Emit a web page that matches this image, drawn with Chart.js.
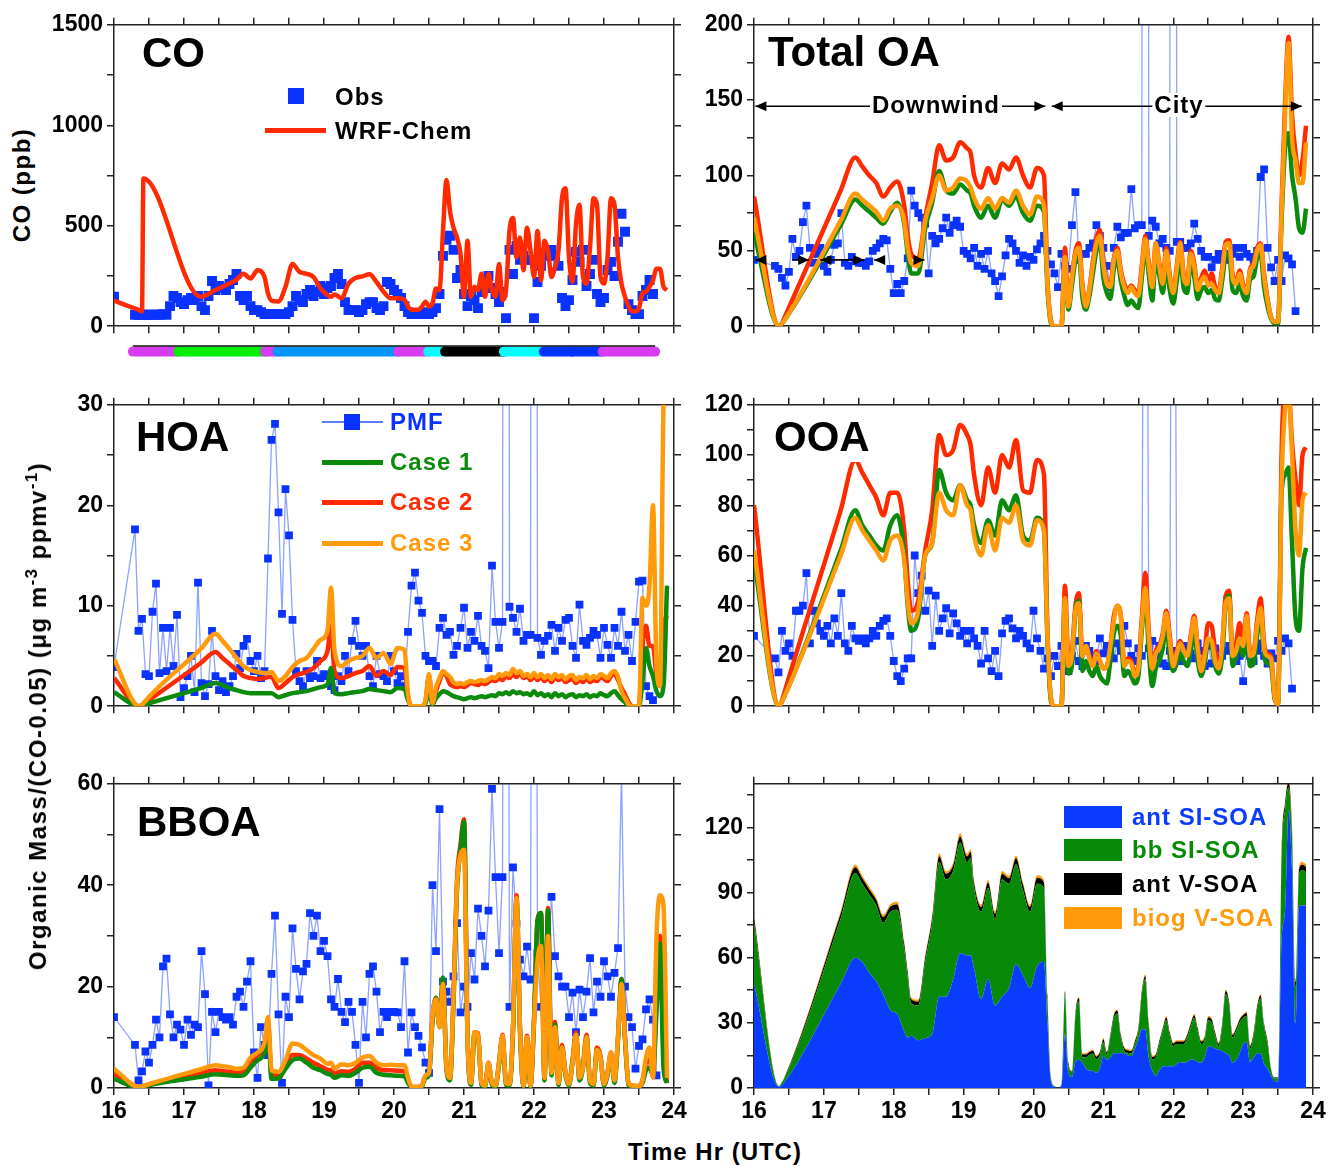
<!DOCTYPE html>
<html lang="en">
<head>
<meta charset="UTF-8">
<title>CO and organic aerosol: observations vs WRF-Chem</title>
<script src="https://cdn.jsdelivr.net/npm/chart.js"></script>
<style>
  body { margin: 0; background: #fff; }
  #fig { position: relative; width: 1330px; height: 1167px; overflow: hidden; font-family: 'Liberation Sans', Arial, sans-serif; }
  canvas { position: absolute; }
  .t { position: absolute; font-weight: bold; white-space: nowrap; line-height: 1; color: #000; }
  .big { font-size: 42px; }
  .lg { font-size: 24px; letter-spacing: 1px; }
  .key { position: absolute; }
  .rot { transform: translate(-50%, -50%) rotate(-90deg); font-size: 24px; letter-spacing: 1.5px; }
  .ctr { transform: translate(-50%, -50%); font-size: 24px; letter-spacing: 1px; }
</style>
</head>
<body>
<div id="fig">
  <canvas id="cCO" style="left:40px;top:7px" width="653" height="337"></canvas>
  <canvas id="cBar" style="left:40px;top:336px" width="653" height="30"></canvas>
  <canvas id="cTOA" style="left:680px;top:7px" width="652" height="337"></canvas>
  <canvas id="cHOA" style="left:40px;top:387px" width="653" height="337"></canvas>
  <canvas id="cOOA" style="left:680px;top:387px" width="652" height="337"></canvas>
  <canvas id="cBBOA" style="left:40px;top:766px" width="653" height="370"></canvas>
  <canvas id="cSOA" style="left:680px;top:766px" width="652" height="370"></canvas>

  <div class="t big" style="left:142px;top:32px">CO</div>
  <div class="t big" style="left:768px;top:31px">Total OA</div>
  <div class="t big" style="left:136px;top:416px">HOA</div>
  <div class="t big" style="left:772px;top:414px;background:#fff;padding:2px 4px 4px 2px">OOA</div>
  <div class="t big" style="left:137px;top:801px">BBOA</div>

  <div class="t rot" style="left:22px;top:185px">CO (ppb)</div>
  <div class="t rot" style="left:37px;top:716px">Organic Mass/(CO-0.05) (&mu;g m<sup style="font-size:0.7em">-3</sup> ppmv<sup style="font-size:0.7em">-1</sup>)</div>
  <div class="t ctr" style="left:715px;top:1152px">Time Hr (UTC)</div>

  <!-- CO legend -->
  <div class="key" style="left:288px;top:88px;width:16px;height:16px;background:#0a32ff"></div>
  <div class="t lg" style="left:335px;top:85px">Obs</div>
  <div class="key" style="left:265px;top:128px;width:61px;height:5px;background:#ff2a00"></div>
  <div class="t lg" style="left:335px;top:119px">WRF-Chem</div>

  <!-- HOA legend -->
  <div class="key" style="left:322px;top:421px;width:61px;height:1.5px;background:rgba(30,70,255,0.7)"></div>
  <div class="key" style="left:344px;top:414px;width:16px;height:16px;background:#0a32ff"></div>
  <div class="t lg" style="left:390px;top:410px;color:#0a32ff">PMF</div>
  <div class="key" style="left:322px;top:460px;width:61px;height:5px;background:#0b8a0b"></div>
  <div class="t lg" style="left:390px;top:450px;color:#0b8a0b">Case 1</div>
  <div class="key" style="left:322px;top:500px;width:61px;height:5px;background:#ff2a00"></div>
  <div class="t lg" style="left:390px;top:490px;color:#ff2a00">Case 2</div>
  <div class="key" style="left:322px;top:541px;width:61px;height:5px;background:#ff9a0a"></div>
  <div class="t lg" style="left:390px;top:531px;color:#ff9a0a">Case 3</div>

  <!-- SOA legend -->
  <div class="key" style="left:1064px;top:806px;width:58px;height:22px;background:#0a3cff"></div>
  <div class="t lg" style="left:1132px;top:805px;color:#0a3cff">ant SI-SOA</div>
  <div class="key" style="left:1064px;top:839px;width:58px;height:22px;background:#078a07"></div>
  <div class="t lg" style="left:1132px;top:838px;color:#078a07">bb SI-SOA</div>
  <div class="key" style="left:1064px;top:873px;width:58px;height:22px;background:#000"></div>
  <div class="t lg" style="left:1132px;top:872px">ant V-SOA</div>
  <div class="key" style="left:1064px;top:907px;width:58px;height:22px;background:#ff9a0a"></div>
  <div class="t lg" style="left:1132px;top:906px;color:#ff9a0a">biog V-SOA</div>

  <!-- leg labels on Total OA -->
  <div class="t ctr" style="left:936px;top:105px;background:#fff;padding:0 2px">Downwind</div>
  <div class="t ctr" style="left:1179px;top:105px;background:#fff;padding:0 2px">City</div>
</div>

<script>
// ---------- model time axis (hr UTC) ----------
const tm = [16.00, 16.36, 16.40, 16.42, 17.24,
  17.45, 17.55, 17.65, 17.75, 17.85, 17.95, 18.05, 18.15, 18.20, 18.25, 18.35, 18.45, 18.55, 18.65, 18.75,
  18.85, 18.95, 19.05, 19.10, 19.15, 19.25, 19.35, 19.45, 19.55, 19.65, 19.75, 19.85, 19.95, 20.05, 20.15, 20.20,
  20.25, 20.30, 20.35, 20.40, 20.45, 20.50, 20.55, 20.60, 20.65, 20.70, 20.75, 20.80, 20.85, 20.90, 20.95,
  21.00, 21.05, 21.10, 21.15, 21.20, 21.25, 21.30, 21.35, 21.40, 21.45, 21.50, 21.55, 21.60, 21.65, 21.70, 21.75, 21.80, 21.85, 21.90, 21.95,
  22.00, 22.05, 22.10, 22.15, 22.20, 22.25, 22.30, 22.35, 22.40, 22.45, 22.50, 22.55, 22.60, 22.65, 22.70, 22.75, 22.80, 22.85, 22.90, 22.95,
  23.00, 23.05, 23.10, 23.15, 23.20, 23.25, 23.30, 23.35, 23.40, 23.45, 23.50, 23.55, 23.60, 23.65, 23.70, 23.75, 23.80, 23.85, 23.90];

// ---------- observation time axis ----------
const tObs = [16.00,
  16.30, 16.35, 16.40, 16.45, 16.50, 16.55, 16.60, 16.65, 16.70, 16.75, 16.80, 16.85, 16.90, 16.95,
  17.00, 17.05, 17.10, 17.15, 17.20, 17.25, 17.30, 17.35, 17.40, 17.45, 17.50, 17.55, 17.60, 17.65, 17.70, 17.75, 17.80, 17.85, 17.90, 17.95,
  18.00, 18.05, 18.10, 18.15, 18.20, 18.25, 18.30, 18.35, 18.40, 18.45, 18.50, 18.55, 18.60, 18.65, 18.70, 18.75, 18.80, 18.85, 18.90, 18.95,
  19.00, 19.05, 19.10, 19.15, 19.20, 19.25, 19.30, 19.35, 19.40, 19.45, 19.50, 19.55, 19.60, 19.65, 19.70, 19.75, 19.80, 19.85, 19.90, 19.95,
  20.00, 20.05, 20.10, 20.15, 20.20, 20.25, 20.30, 20.35, 20.40, 20.45, 20.50, 20.55, 20.60, 20.65, 20.70, 20.75, 20.80, 20.85, 20.90, 20.95,
  21.00, 21.05, 21.10, 21.15, 21.20, 21.25, 21.30, 21.35, 21.40, 21.45, 21.50, 21.55, 21.60, 21.65, 21.70, 21.75, 21.80, 21.85, 21.90, 21.95,
  22.00, 22.05, 22.10, 22.15, 22.20, 22.25, 22.30, 22.35, 22.40, 22.45, 22.50, 22.55, 22.60, 22.65, 22.70, 22.75, 22.80, 22.85, 22.90, 22.95,
  23.00, 23.05, 23.10, 23.15, 23.20, 23.25, 23.30, 23.35, 23.40, 23.45, 23.50, 23.55, 23.60, 23.65, 23.70, 23.75, 23.80, 23.85];

// ---------- CO (ppb) ----------
const coModel = [127, 80, 74, 735, 147, 180, 196, 212, 232, 261, 237, 278, 245, 163, 127, 123, 196, 310, 270, 261,
  245, 188, 155, 147, 158, 139, 212, 240, 248, 258, 220, 172, 139, 139, 131, 98,
  82, 82, 82, 98, 122, 98, 114, 188, 180, 474, 727, 572, 490, 441, 360,
  147, 425, 147, 196, 180, 261, 147, 261, 180, 147, 310, 131, 180, 474, 539, 343, 441, 278, 490, 376,
  245, 474, 229, 425, 376, 245, 294, 376, 637, 686, 343, 220, 507, 605, 245, 212, 392, 637, 605, 245,
  212, 343, 637, 605, 343, 212, 147, 98, 74, 74, 90, 163, 172, 196, 229, 286, 286, 196, 180];
const coObs = [147,
  57, 57, 57, 57, 57, 57, 57, 57, 60, 57, 100, 150, 140, 120,
  110, 130, 140, 130, 150, 100, 80, 150, 225, 180, 200, 190, 180, 210, 230, 260, 150, 130, 150, 100,
  80, 80, 70, 60, 60, 60, 60, 60, 60, 60, 70, 100, 150, 130, 120, 160, 180, 150, 170, 200,
  160, 190, 200, 240, 260, 210, 120, 80, 80, 80, 70, 80, 110, 120, 120, 90, 80, 100, 220, 210,
  180, 160, 140, 100, 70, 60, 60, 60, 60, 70, 60, 70, 90, 160, 350, 430, 450, 380, 240, 280,
  160, 100, 150, 130, 90, 170, 200, 250, 190, 160, 120, 170, 40, 380, 260, 400, 330, 350, 330, 330,
  40, 220, 300, 360, 350, 380, 350, 300, 140, 100, 130, 230, 370, 320, 380, 200, 260, 330, 160, 120,
  140, 280, 320, 250, 420, 560, 470, 110, 80, 60, 60, 150, 180, 230, 160, null, null, null];

// ---------- Total OA ----------
const toaCase2 = [86, 0, 2, 4, 90, 112, 106, 100, 95, 86, 92, 96, 80, 60, 48, 45, 72, 95, 120, 110,
  112, 122, 118, 115, 100, 92, 105, 95, 108, 104, 112, 100, 92, 105, 100, 30,
  4, 0, 0, 0, 52, 13, 33, 50, 55, 28, 14, 25, 43, 58, 64,
  42, 30, 28, 45, 52, 37, 28, 24, 27, 24, 22, 40, 60, 42, 28, 55, 42, 30, 52, 34,
  22, 40, 56, 34, 30, 50, 42, 26, 32, 37, 30, 35, 26, 24, 38, 56, 57, 34, 30, 37,
  28, 22, 38, 42, 52, 55, 35, 18, 6, 3, 3, 80, 148, 192, 140, 115, 100, 110, 133];
const toaCase3 = [72, 0, 2, 3, 70, 88, 84, 80, 76, 70, 78, 80, 70, 52, 42, 40, 70, 85, 100, 90,
  92, 98, 96, 92, 85, 78, 85, 78, 85, 82, 90, 80, 74, 86, 80, 28,
  3, 0, 0, 0, 46, 13, 32, 48, 52, 26, 13, 24, 41, 55, 60,
  40, 28, 26, 44, 50, 35, 26, 22, 26, 22, 20, 38, 58, 40, 26, 55, 40, 28, 50, 32,
  22, 38, 55, 32, 28, 48, 40, 24, 30, 33, 27, 28, 24, 22, 36, 54, 55, 32, 28, 35,
  26, 22, 37, 40, 50, 54, 33, 17, 6, 3, 3, 75, 140, 188, 125, 110, 95, 95, 122];
const toaCase1 = [62, 0, 2, 3, 67, 84, 80, 76, 72, 68, 76, 82, 68, 48, 35, 35, 65, 82, 103, 90,
  88, 94, 90, 88, 80, 72, 80, 72, 84, 80, 86, 75, 70, 80, 76, 25,
  2, 0, 0, 0, 39, 11, 27, 44, 48, 19, 11, 20, 35, 50, 56,
  32, 22, 18, 38, 44, 30, 20, 14, 17, 14, 12, 32, 53, 34, 17, 46, 34, 22, 42, 24,
  15, 30, 46, 25, 22, 42, 33, 18, 24, 26, 22, 24, 18, 17, 30, 47, 48, 24, 22, 28,
  20, 17, 31, 33, 45, 48, 26, 13, 5, 2, 2, 70, 118, 128, 100, 85, 65, 62, 78];
const toaObs = [44,
  40, 38, 32, 27, 36, 58, 46, 50, 69, 80, 52, 42, 48, 52,
  40, 36, 44, 54, 55, 75, 42, 40, 46, 43, 42, 42, 40, 43, 50, 52, 55, 58, 57, 38,
  22, 28, 22, 30, 45, 90, 80, 75, 72, 68, 35, 60, 55, 58, 65, 72, 62, 67, 70, 66,
  50, 48, 45, 52, 40, 48, 38, 50, 35, 30, 20, 33, 47, 58, 55, 50, 42, 47, 40, 46,
  44, 51, 55, 60, 50, 41, 35, 26, 48, 40, 38, 67, 89, 44, 48, 48, 52, 55, 67, 60,
  52, 40, 26, 52, 66, 59, 62, 62, 91, 65, 67, 67, 3000, 60, 70, 66, 55, 58, 52, 50,
  3000, 56, 56, 52, 52, 55, 68, 58, 50, 46, 46, 39, 44, 48, 44, 48, 44, 48, 52, 46,
  52, 48, 46, 44, 50, 99, 104, 52, 39, 30, 44, 30, 47, 45, 41, 10, null, null];

// ---------- HOA ----------
const hoaCase2 = [2.8, 0, 0.1, 0.2, 4.3, 5.4, 4.8, 4.2, 3.6, 3.0, 2.8, 2.7, 2.8, 2.9, 2.9, 1.8, 2.3, 2.9, 3.2, 3.4,
  3.8, 4.5, 5.5, 8.0, 3.5, 2.8, 3.0, 3.3, 3.5, 4.0, 3.0, 3.5, 3.1, 3.9, 3.8, 1.0,
  0, 0, 0, 0, 0.5, 3.0, 0.3, 1.5, 2.5, 3.3, 3.0, 2.2, 2.0, 1.9, 2.0,
  1.9, 2.1, 2.3, 2.2, 2.1, 2.3, 2.2, 2.4, 2.6, 2.5, 2.8, 2.6, 3.0, 2.8, 3.2, 2.9, 3.3, 2.8, 3.0, 2.6,
  3.0, 2.6, 2.9, 2.5, 2.8, 2.4, 2.9, 2.6, 2.8, 2.4, 2.6, 2.7, 2.3, 2.6, 2.4, 2.8, 2.4, 2.6, 2.5, 2.9,
  2.7, 2.5, 3.0, 3.2, 2.6, 1.8, 1.2, 0.4, 0, 0, 0, 6.0, 8.0, 6.0, 6.0, 3.0, 2.0, 8.0, 9.0];
const hoaCase3 = [4.7, 0, 0.1, 0.3, 5.7, 7.2, 6.5, 5.7, 4.8, 4.0, 3.6, 3.4, 3.3, 3.3, 3.4, 2.5, 3.0, 3.9, 4.5, 4.8,
  5.7, 6.6, 7.5, 11.8, 5.5, 4.0, 4.5, 4.8, 5.0, 5.8, 4.8, 5.3, 4.2, 5.8, 5.6, 1.2,
  0, 0, 0, 0, 0.6, 3.2, 0.3, 1.9, 2.8, 3.5, 3.2, 2.9, 2.4, 2.2, 2.3,
  2.2, 2.4, 2.5, 2.4, 2.5, 2.6, 2.5, 2.7, 2.9, 2.8, 3.2, 3.0, 3.3, 3.1, 3.7, 3.3, 3.5, 3.0, 3.2, 2.9,
  3.3, 2.9, 3.2, 2.8, 3.1, 2.7, 3.2, 2.9, 3.1, 2.7, 3.0, 3.1, 2.6, 2.9, 2.8, 3.1, 2.7, 3.0, 2.8, 3.2,
  3.0, 2.8, 3.3, 3.5, 2.9, 1.5, 0.8, 0.2, 0, 0, 0, 10.8, 10.0, 12.0, 20.0, 4.0, 2.0, 30.0, 35.0];
const hoaCase1 = [1.4, 0, 0.05, 0.1, 1.8, 2.3, 2.1, 1.8, 1.6, 1.4, 1.3, 1.3, 1.3, 1.3, 1.3, 0.9, 1.1, 1.3, 1.4, 1.5,
  1.7, 1.9, 2.2, 3.8, 1.3, 1.2, 1.3, 1.4, 1.5, 1.7, 1.6, 1.5, 1.4, 1.8, 1.7, 0.6,
  0, 0, 0, 0, 0.3, 1.5, 0.2, 0.8, 1.2, 1.5, 1.4, 1.2, 1.0, 0.9, 0.8,
  0.7, 0.8, 0.9, 0.8, 0.9, 1.0, 0.9, 1.0, 1.1, 1.0, 1.3, 1.2, 1.4, 1.2, 1.5, 1.3, 1.4, 1.2, 1.3, 1.1,
  1.5, 1.1, 1.3, 1.0, 1.2, 0.9, 1.3, 1.0, 1.2, 0.9, 1.1, 1.2, 0.9, 1.1, 1.0, 1.2, 0.9, 1.1, 1.0, 1.3,
  1.1, 1.0, 1.3, 1.5, 1.1, 0.7, 0.4, 0.1, 0, 0, 0, 2.5, 5.8, 4.0, 3.0, 1.5, 1.0, 2.0, 12.0];
const hoaObs = [3.9,
  17.6, 7.5, 8.7, 3.2, 3.0, 9.4, 12.2, 3.3, 7.8, 3.5, 7.8, 4.0, 9.1, 0.9,
  1.8, 3.0, 5.0, 1.4, 12.3, 2.3, 1.0, 2.2, 7.5, 3.0, 1.6, 2.5, 1.4, 2.0, 3.0, 5.2, 3.8, 6.0, 6.7, 4.5,
  3.5, 5.0, 2.8, 3.5, 14.7, 26.5, 28.1, 19.3, 9.2, 21.6, 17.0, 8.6, 3.5, 2.5, 2.0, 3.5, 2.8, 3.0, 4.5, 2.8,
  3.2, 3.0, 2.0, 1.6, 3.0, 2.5, 5.0, 3.5, 6.5, 8.5, 6.0, 5.0, 6.0, 3.0, 2.0, 5.0, 3.2, 3.0, 2.5, 5.0,
  3.5, 2.3, 3.0, 2.0, 7.4, 12.0, 13.3, 10.5, 9.3, 5.0, 4.5, 4.5, 4.0, 7.8, 8.8, 7.1, 7.4, 5.1, 6.0, 7.8,
  9.8, 5.8, 7.4, 6.5, 9.0, 6.0, 5.5, 3.8, 14.0, 8.4, 5.8, 8.4, 300, 9.9, 8.8, 7.4, 9.7, 6.5, 7.1, 7.1,
  300, 6.8, 5.1, 6.5, 7.0, 8.1, 5.5, 7.8, 6.5, 8.6, 8.8, 6.0, 4.8, 10.1, 6.5, 6.1, 6.8, 7.5, 7.1, 4.8,
  7.8, 6.1, 4.8, 7.8, 6.0, 9.4, 5.5, 7.1, 4.5, 8.4, 12.4, 12.5, 2.0, 1.0, 0.6, null, null, null];

// ---------- OOA ----------
const ooaCase2 = [80, 0, 2, 4, 78, 98, 93, 88, 83, 76, 85, 85, 70, 50, 38, 42, 62, 78, 108, 100,
  102, 112, 108, 104, 92, 80, 95, 85, 100, 95, 106, 86, 85, 98, 92, 30,
  3, 0, 0, 0, 48, 18, 22, 40, 45, 20, 24, 20, 16, 22, 18,
  15, 16, 24, 36, 40, 36, 17, 19, 18, 13, 16, 35, 53, 30, 15, 22, 24, 29, 38, 28,
  16, 22, 26, 22, 20, 28, 36, 24, 14, 22, 33, 32, 22, 16, 24, 44, 46, 20, 25, 33,
  26, 37, 22, 22, 34, 43, 25, 21, 20, 4, 1, 100, 125, 125, 105, 90, 80, 100, 103];
const ooaCase3 = [62, 0, 2, 3, 60, 75, 70, 66, 62, 58, 66, 68, 58, 42, 33, 38, 60, 65, 85, 78,
  76, 88, 80, 78, 68, 60, 72, 62, 75, 73, 80, 66, 64, 74, 70, 28,
  3, 0, 0, 0, 43, 16, 20, 38, 41, 20, 24, 19, 16, 21, 18,
  15, 16, 24, 34, 40, 36, 16, 18, 17, 12, 15, 33, 47, 28, 15, 21, 23, 28, 37, 26,
  16, 21, 25, 22, 20, 27, 35, 23, 14, 20, 27, 26, 18, 15, 24, 41, 43, 20, 22, 27,
  24, 36, 20, 21, 32, 39, 23, 20, 19, 4, 1, 88, 118, 125, 100, 70, 60, 82, 85];
const ooaCase1 = [58, 0, 2, 3, 62, 78, 72, 68, 64, 62, 72, 76, 60, 40, 30, 35, 60, 65, 94, 85,
  82, 88, 82, 80, 72, 65, 74, 68, 82, 78, 84, 68, 66, 75, 70, 26,
  2, 0, 0, 0, 42, 13, 16, 38, 42, 14, 18, 14, 12, 16, 12,
  10, 9, 18, 29, 32, 28, 12, 14, 12, 9, 12, 30, 44, 22, 8, 15, 18, 23, 33, 20,
  14, 17, 21, 18, 16, 22, 30, 18, 12, 17, 26, 24, 16, 13, 20, 40, 44, 16, 20, 25,
  20, 30, 16, 17, 28, 37, 20, 17, 16, 3, 1, 85, 92, 95, 65, 35, 30, 55, 63];
const ooaObs = [28,
  19, 13.5, 30, 22, 25, 20, 38, 38, 40, 53, 25, 38, 33, 30,
  28, 32, 25, 35, 28, 45, 25, 22, 32, 27, 26, 27, 25, 27, 30, 28, 32, 34, 35, 28,
  18, 12, 10, 15, 19, 19, 60, 45, 52, 38, 46, 24, 44, 30, 35, 39, 29, 37, 33, 28,
  30, 25, 30, 27, 24, 17, 30, 19, 14, 22, 12, 29, 34, 35, 31, 27, 30, 28, 25, 23,
  38, 27, 22, 15, 19, 12, 20, 16, 24, 22, 14, 20, 26, 18, 16, 24, 22, 20, 18, 27,
  21, 24, 22, 19, 25, 22, 32, 25, 20, 18, 23, 20, 400, 23, 26, 20, 24, 17, 16, 22,
  400, 22, 18, 24, 23, 21, 19, 25, 22, 16, 24, 17, 23, 19, 20, 22, 24, 22, 18, 20,
  10, 22, 20, 18, 22, 25, 20, 17, 21, 19, 26, 22, 27, 25, 7, null, null, null];

// ---------- BBOA ----------
const bboaCase2 = [2.8, 0.2, 0.3, 0.4, 2.9, 3.5, 3.3, 3.2, 3.0, 3.1, 5.0, 6.5, 8.0, 13.0, 2.5, 2.5, 4.5, 6.5, 6.5, 5.8,
  5.0, 4.3, 3.6, 3.5, 2.8, 3.3, 3.2, 3.8, 5.0, 5.0, 4.0, 3.5, 3.5, 3.4, 3.3, 1.5,
  0.3, 0.2, 0.2, 0.5, 2.4, 2.8, 14, 17.8, 12.5, 21.5, 4, 2, 18, 41, 48,
  53, 11, 1, 11, 10.8, 1, 0.5, 5, 1, 0.5, 5, 10.5, 1, 0.8, 12, 38, 12, 0.5, 10.3, 0.5,
  13.5, 33, 34.5, 2, 35.5, 3, 13, 1, 8.5, 3, 0.8, 5.5, 11, 2, 4.5, 10.5, 1.5, 0.8, 8, 6.3,
  0.8, 3, 7, 1.5, 10, 21.5, 10, 1, 0.5, 0.4, 0.4, 1.5, 5, 5.5, 2.5, 20, 30, 8, 1];
const bboaCase3 = [3.8, 0.2, 0.3, 0.4, 3.7, 4.5, 4.3, 4.1, 3.8, 4.0, 6.0, 7.0, 9.0, 14.0, 3.5, 3.2, 5.5, 8.8, 8.5, 7.5,
  6.5, 5.8, 4.8, 5.0, 3.8, 4.7, 4.5, 5.0, 6.0, 6.3, 5.0, 4.5, 4.6, 4.5, 4.5, 2.0,
  0.3, 0.2, 0.2, 0.5, 2.5, 3.0, 14, 17.5, 12, 20.5, 4, 2, 18, 40, 46,
  47, 10, 1, 11, 10.5, 1, 0.5, 5, 1, 0.5, 5, 10.3, 1, 0.8, 12, 37.5, 12, 0.5, 10, 0.5,
  13, 25, 28, 2, 30, 3, 12, 1, 8, 3, 0.8, 5, 10.5, 2, 4, 10, 1.5, 0.8, 7.5, 6,
  0.8, 3, 7, 1.5, 10, 20.5, 10, 1, 0.5, 0.4, 0.4, 1.5, 6, 8, 2, 30, 38, 36, 2];
const bboaCase1 = [1.8, 0.1, 0.2, 0.3, 2.2, 2.7, 2.6, 2.5, 2.4, 2.5, 4.0, 5.5, 7.0, 12.0, 1.8, 1.9, 3.8, 5.5, 5.8, 5.0,
  4.0, 3.5, 2.8, 2.6, 2.0, 2.5, 2.4, 3.0, 4.0, 4.2, 3.0, 2.6, 2.5, 2.4, 2.3, 1.0,
  0.2, 0.1, 0.1, 0.3, 2.0, 2.5, 13, 17.8, 12, 21.8, 3.5, 1.5, 17, 39, 47,
  52.5, 10, 0.6, 10.5, 10.2, 0.6, 0.3, 4.5, 0.6, 0.3, 4.5, 10, 0.6, 0.5, 11, 37, 11, 0.3, 9.8, 0.3,
  13, 33, 34.5, 1.5, 35, 2.5, 12.5, 0.6, 8, 2.5, 0.5, 5, 10.5, 1.5, 4, 10, 1, 0.5, 7.5, 6,
  0.5, 2.5, 6.5, 1, 9.5, 21.5, 9.6, 0.6, 0.3, 0.3, 0.3, 1, 3.5, 4, 2.5, 15, 28.5, 4, 1];
const bboaObs = [14,
  8.5, 1.5, 3.3, 7.2, 5.0, 8.5, 13.5, 10, 24, 25.5, 14.5, 10, 12.5, 11.5,
  8.5, 13.5, 10.5, 12.5, 12, 27, 18.5, 0.5, 15, 11, 15, 14, 13.5, 14, 12.5, 18, 19, 16, 21, 25,
  7, 2, 12, 8.5, 6.5, 22.5, 34, 14.5, 1.0, 18, 14, 31.5, 23.5, 17.5, 23, 24.5, 34.5, 30, 34, 27,
  29, 26, 17.5, 16, 21.5, 15, 13, 17, 15, 8.5, 1.0, 17, 10, 22.5, 24, 19, 11, 15, 14, 15,
  15, 14.9, 12, 25, 7, 14.9, 12, 10.3, 8, 5, 3, 40, 27, 55, 21, 19, 17, 22, 32.5, 14.9,
  20, 16, 26.6, 21.4, 35.4, 30, 24, 35, 59, 41.6, 26.6, 41.6, 300, 16, 43.5, 32.4, 25.3, 22, 27.9, 21.4,
  300, 26.6, 16, 25, 25, 37.7, 26, 22, 20, 20, 14, 18.8, 11, 19.4, 14, 19, 25.6, 14.9, 21, 18,
  25, 22, 18, 22.7, 27.6, 62, 20, 14, 12, 3.8, 8.3, 9.6, 15.5, 17.5, 13.5, 2.5, null, null];

// ---------- SOA composition (stacked, Case 2) ----------
const soaAntSI = [48, 0.5, 1.5, 2, 48, 60, 58, 53, 49, 43, 36, 34, 26, 23, 24, 22, 23, 25, 42, 42,
  50, 62, 61, 61, 55, 41, 50, 38, 42, 46, 57, 52, 46, 56, 58, 30,
  3, 0.5, 0, 1, 25, 7, 5, 12, 13, 11.6, 9, 8, 7.8, 7, 9,
  14.7, 13, 14, 16, 16, 16, 16, 15, 14.7, 18, 22, 27, 27, 14, 8, 5.5, 8, 10, 10, 10,
  10, 11, 12, 11.6, 12, 13, 13, 12, 11.6, 14, 19, 19, 18, 17.7, 17, 16, 15, 11.6, 13, 16,
  20, 21, 12, 14, 16, 16, 11, 9, 5.5, 3.2, 3, 68, 82, 128, 100, 30, 84, 84, 84];
const soaBbSI = [28, 0.3, 1.1, 1.4, 30, 39, 36, 36, 35, 33, 45, 48, 38, 28, 15, 16, 35, 51, 62, 54,
  50, 51, 43, 45, 37, 40, 42, 40, 54, 48, 46, 39, 35, 38, 34, 11,
  1.5, 0.3, 0, 0.6, 18.2, 3.2, 2.5, 21.2, 27.2, 2.6, 5.2, 7.2, 8.1, 6.2, 6.2,
  6.5, 2.2, 9.2, 16.2, 18.2, 7.2, 1.2, 1.2, 1.2, 2.2, 4.2, 16.2, 23.2, 14.2, 5.2, 8.7, 12.2, 16.2, 21.2, 14.2,
  9.2, 9.2, 8.2, 8.6, 11.2, 15.2, 19.2, 14.2, 8.6, 8.2, 12.2, 11.2, 6.2, 1.5, 11.2, 27.2, 23.2, 11.6, 13.2, 14.2,
  12.2, 12.2, 6.2, 10.2, 20.2, 25.2, 17.2, 11.2, 3.0, 1.3, 1.5, 38.3, 46.3, 10.3, 16.3, 16.3, 14.3, 16.3, 15.3];
const soaAntV = [2.4, 0.1, 0.2, 0.3, 2.2, 2.6, 2.5, 2.4, 2.5, 2.6, 2.4, 2.5, 2.3, 2.0, 1.8, 1.8, 2.1, 2.4, 2.7, 2.6,
  2.5, 2.8, 2.6, 2.6, 2.4, 2.3, 2.5, 2.2, 2.6, 2.5, 2.7, 2.5, 2.3, 2.6, 2.5, 1.5,
  0.3, 0.1, 0, 0.2, 1.2, 1.2, 0.3, 1.2, 1.2, 1.2, 1.2, 1.2, 1.2, 1.2, 1.2,
  1.2, 1.1, 1.2, 1.3, 1.3, 1.2, 1.1, 1.1, 1.1, 1.2, 1.2, 1.3, 1.4, 1.2, 1.1, 1.1, 1.2, 1.2, 1.3, 1.2,
  1.2, 1.2, 1.2, 1.2, 1.2, 1.3, 1.3, 1.2, 1.2, 1.2, 1.3, 1.3, 1.2, 1.1, 1.2, 1.4, 1.3, 1.2, 1.2, 1.2,
  1.3, 1.3, 1.1, 1.2, 1.3, 1.4, 1.2, 1.2, 0.3, 0.3, 0.3, 2.5, 2.5, 2.5, 2.5, 2.5, 2.5, 2.5, 2.5];
const soaBiogV = [1.2, 0.1, 0.1, 0.2, 1.1, 1.3, 1.2, 1.2, 1.2, 1.2, 1.1, 1.2, 1.1, 1.0, 0.9, 0.9, 1.0, 1.2, 1.3, 1.2,
  1.2, 1.4, 1.3, 1.3, 1.2, 1.1, 1.2, 1.1, 1.3, 1.2, 1.3, 1.2, 1.1, 1.3, 1.2, 0.8,
  0.2, 0.1, 0, 0.2, 0.6, 0.6, 0.2, 0.6, 0.6, 0.6, 0.6, 0.6, 0.6, 0.6, 0.6,
  0.6, 0.6, 0.6, 0.6, 0.6, 0.6, 0.6, 0.6, 0.6, 0.6, 0.6, 0.6, 0.7, 0.6, 0.6, 0.6, 0.6, 0.6, 0.6, 0.6,
  0.6, 0.6, 0.6, 0.6, 0.6, 0.6, 0.7, 0.6, 0.6, 0.6, 0.6, 0.6, 0.6, 0.6, 0.6, 0.7, 0.7, 0.6, 0.6, 0.6,
  0.6, 0.6, 0.6, 0.6, 0.6, 0.7, 0.6, 0.6, 0.2, 0.2, 0.2, 1.2, 1.2, 1.2, 1.2, 1.2, 1.2, 1.2, 1.2];

// ---------- flight-leg strip under the CO panel ----------
const legStart = [16.27, 16.92, 18.16, 18.34, 20.06, 20.49, 20.73, 21.57, 22.14, 22.54, 22.98];
const legEnd   = [16.92, 18.16, 18.34, 20.06, 20.49, 20.73, 21.57, 22.14, 22.54, 22.98, 23.73];
const legColors = ['#d83cf2', '#00ee00', '#d83cf2', '#0096ff', '#d83cf2', '#00ffff', '#000000', '#00ffff', '#0033ff', '#0033ff', '#d83cf2'];

// ---------- Downwind / City arrows on Total OA ----------
const arrowFrom  = [16.02, 20.26, 16.02, 16.55, 16.95, 17.72, 18.30];
const arrowTo    = [20.17, 23.84, 16.12, 16.79, 17.58, 17.86, 18.44];
const arrowLevel = [146, 146, 44, 44, 44, 44, 44];
const arrowHeads = ['<>', '<>', '<', '>', '<>', '<', '>'];

const BLUE = '#0a32ff', RED = '#ff2a00', GREEN = '#0b8a0b', ORANGE = '#ff9a0a';

Chart.defaults.font.family = "'Liberation Sans', Arial, sans-serif";
Chart.defaults.color = '#000';
Chart.defaults.animation = false;
Chart.defaults.responsive = false;
Chart.defaults.events = [];
Chart.defaults.plugins.legend.display = false;
Chart.defaults.plugins.tooltip.enabled = false;

function pts(xs, ys) {
  return xs.map((x, i) => ({ x: x, y: ys[i] }));
}

function modelLine(vals, color, order) {
  return { data: pts(tm, vals), borderColor: color, borderWidth: 4.5, pointRadius: 0,
           cubicInterpolationMode: 'monotone', borderJoinStyle: 'round', fill: false, order: order };
}

function pmfLine(vals) {
  return { data: pts(tObs, vals), borderColor: 'rgba(30,70,255,0.5)', borderWidth: 1.3,
           pointStyle: 'rect', pointRadius: 5.5, pointBackgroundColor: BLUE, pointBorderWidth: 0,
           spanGaps: true, tension: 0, order: 10 };
}

function axes(ymax, ystep, ylabel, xlabels) {
  const font = { size: 23, weight: 'bold' };
  const grid = { drawOnChartArea: false, tickLength: 7, color: '#222', lineWidth: 1.5 };
  const border = { color: '#222', width: 1.5 };
  return {
    x: { type: 'linear', min: 16, max: 24, border: border, grid: grid,
         ticks: { stepSize: 0.5, autoSkip: false, maxRotation: 0, display: xlabels, font: font, padding: 3,
                  callback: v => Number.isInteger(v) ? v : '' },
         afterFit: s => { s.height = xlabels ? 40 : 7; } },
    xTop: { type: 'linear', position: 'top', min: 16, max: 24, border: border, grid: grid,
            ticks: { stepSize: 0.5, display: false }, afterFit: s => { s.height = 7; } },
    y: { min: 0, max: ymax, border: border, grid: grid,
         ticks: { stepSize: ystep, autoSkip: false, includeBounds: false, font: font, padding: 4,
                  callback: v => v % ylabel === 0 ? v : '' },
         afterFit: s => { s.width = 74; } },
    yRight: { position: 'right', min: 0, max: ymax, border: border, grid: grid,
              ticks: { stepSize: ystep, display: false, includeBounds: false }, afterFit: s => { s.width = 7; } }
  };
}

const layout = { padding: { left: 0, right: 12, top: 8, bottom: 8 } };

function drawHead(c, x, y, dir) {
  c.beginPath();
  c.moveTo(x, y);
  c.lineTo(x - dir * 11, y - 5);
  c.lineTo(x - dir * 11, y + 5);
  c.closePath();
  c.fill();
}

const arrowPlugin = {
  id: 'legArrows',
  afterDatasetsDraw(chart) {
    const c = chart.ctx, xs = chart.scales.x, ys = chart.scales.y;
    c.save();
    c.strokeStyle = '#000';
    c.fillStyle = '#000';
    c.lineWidth = 1.6;
    for (let i = 0; i < arrowFrom.length; i++) {
      const x0 = xs.getPixelForValue(arrowFrom[i]);
      const x1 = xs.getPixelForValue(arrowTo[i]);
      const y = ys.getPixelForValue(arrowLevel[i]);
      c.beginPath(); c.moveTo(x0, y); c.lineTo(x1, y); c.stroke();
      if (arrowHeads[i].includes('<')) drawHead(c, x0, y, -1);
      if (arrowHeads[i].includes('>')) drawHead(c, x1, y, 1);
    }
    c.restore();
  }
};

// CO
new Chart(document.getElementById('cCO'), {
  type: 'line',
  data: { datasets: [
    { data: pts(tObs, coObs), showLine: false, pointStyle: 'rect', pointRadius: 7,
      pointBackgroundColor: BLUE, pointBorderWidth: 0, order: 10 },
    modelLine(coModel, RED, 1)
  ] },
  options: { layout: layout, scales: axes(1500, 250, 500, false) }
});

// flight-leg strip
const stripSets = legStart.map((s, i) => ({
  data: [{ x: s, y: 0.48 }, { x: legEnd[i], y: 0.48 }],
  borderColor: legColors[i], borderWidth: 10, borderCapStyle: 'round', pointRadius: 0, order: 20 - i
}));
stripSets.push({ data: [{ x: legStart[0], y: 0.67 }, { x: legEnd[legEnd.length - 1], y: 0.67 }],
                 borderColor: '#111', borderWidth: 1.5, pointRadius: 0, order: 0 });
new Chart(document.getElementById('cBar'), {
  type: 'line',
  data: { datasets: stripSets },
  options: {
    layout: { padding: { left: 74, right: 19, top: 0, bottom: 0 } },
    scales: { x: { type: 'linear', min: 16, max: 24, display: false },
              y: { min: 0, max: 1, display: false } }
  }
});

// Total OA
new Chart(document.getElementById('cTOA'), {
  type: 'line',
  data: { datasets: [pmfLine(toaObs), modelLine(toaCase2, RED, 3), modelLine(toaCase1, GREEN, 2), modelLine(toaCase3, ORANGE, 1)] },
  options: { layout: layout, scales: axes(200, 25, 50, false) },
  plugins: [arrowPlugin]
});

// HOA
new Chart(document.getElementById('cHOA'), {
  type: 'line',
  data: { datasets: [pmfLine(hoaObs), modelLine(hoaCase2, RED, 3), modelLine(hoaCase1, GREEN, 2), modelLine(hoaCase3, ORANGE, 1)] },
  options: { layout: layout, scales: axes(30, 5, 10, false) }
});

// OOA
new Chart(document.getElementById('cOOA'), {
  type: 'line',
  data: { datasets: [pmfLine(ooaObs), modelLine(ooaCase2, RED, 3), modelLine(ooaCase1, GREEN, 2), modelLine(ooaCase3, ORANGE, 1)] },
  options: { layout: layout, scales: axes(120, 10, 20, false) }
});

// BBOA
new Chart(document.getElementById('cBBOA'), {
  type: 'line',
  data: { datasets: [pmfLine(bboaObs), modelLine(bboaCase2, RED, 3), modelLine(bboaCase1, GREEN, 2), modelLine(bboaCase3, ORANGE, 1)] },
  options: { layout: layout, scales: axes(60, 10, 20, true) }
});

// SOA composition (stacked areas)
function areaSet(vals, color, fillMode) {
  return { data: pts(tm, vals), backgroundColor: color, borderColor: color, borderWidth: 0,
           pointRadius: 0, fill: fillMode, cubicInterpolationMode: 'monotone' };
}
const soaScales = axes(140, 15, 30, true);
soaScales.y.stacked = true;
new Chart(document.getElementById('cSOA'), {
  type: 'line',
  data: { datasets: [
    areaSet(soaAntSI, '#0a3cff', 'origin'),
    areaSet(soaBbSI, '#078a07', '-1'),
    areaSet(soaAntV, '#000000', '-1'),
    areaSet(soaBiogV, '#ff9a0a', '-1')
  ] },
  options: { layout: layout, scales: soaScales }
});
</script>
</body>
</html>
